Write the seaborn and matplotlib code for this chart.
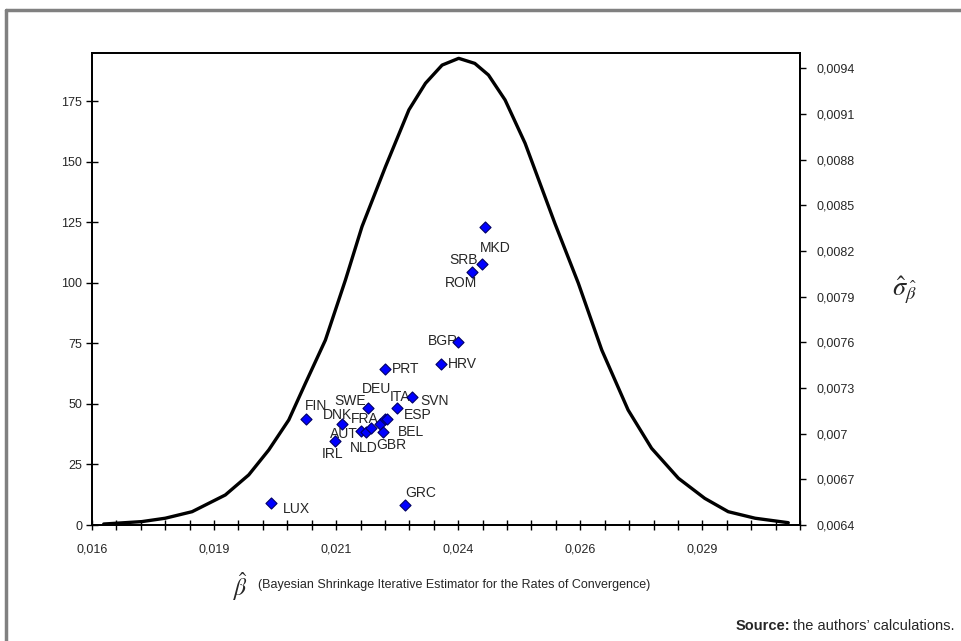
import matplotlib.pyplot as plt
import seaborn as sns
from matplotlib.lines import Line2D
from matplotlib.ticker import MultipleLocator

# density curve (left axis)
beta_grid = [0.01624, 0.01702, 0.01750, 0.01805, 0.01873, 0.01921, 0.01962, 0.02003,
             0.02037, 0.02078, 0.02119, 0.02153, 0.02201, 0.02249, 0.02283, 0.02317,
             0.02351, 0.02384, 0.02412, 0.02446, 0.02487, 0.02548, 0.02596, 0.02644,
             0.02698, 0.02746, 0.02801, 0.02855, 0.02903, 0.02958, 0.03026]
density = [0.4, 1.4, 2.8, 5.5, 12.4, 20.7, 31.0, 43.4,
           58.5, 76.4, 101.2, 123.3, 148.0, 171.5, 182.5, 190.0,
           192.8, 190.7, 185.9, 175.6, 157.7, 124.6, 99.9, 72.3,
           47.5, 31.7, 19.3, 11.0, 5.5, 2.8, 0.95]

# country estimates (right axis)
countries = ['LUX', 'GRC', 'PRT', 'BGR', 'HRV', 'MKD', 'SRB', 'ROM', 'FIN', 'DNK', 'SWE',
             'ITA', 'SVN', 'IRL', 'AUT', 'NLD', 'GBR', 'FRA', 'DEU', 'ESP', 'BEL']
beta_hat = [0.01967, 0.02242, 0.02200, 0.02350, 0.02315, 0.02405, 0.02398, 0.02379, 0.02038,
            0.02112, 0.02165, 0.02225, 0.02255, 0.02097, 0.02150, 0.02161, 0.02171, 0.02189,
            0.02200, 0.02205, 0.02195]
sigma_hat = [0.006546, 0.006531, 0.007424, 0.007604, 0.007455, 0.008359, 0.008112, 0.008061,
             0.007096, 0.007063, 0.007166, 0.007170, 0.007239, 0.006954, 0.007015, 0.007009,
             0.007035, 0.007063, 0.007096, 0.007096, 0.007009]

x_ticks = [0.016, 0.0185, 0.021, 0.0235, 0.026, 0.0285]
x_tick_labels = ['0,016', '0,019', '0,021', '0,024', '0,026', '0,029']
left_ticks = [0, 25, 50, 75, 100, 125, 150, 175]
right_ticks = [0.0064, 0.0067, 0.0070, 0.0073, 0.0076, 0.0079, 0.0082, 0.0085, 0.0088, 0.0091, 0.0094]
right_tick_labels = ['0,0064', '0,0067', '0,007', '0,0073', '0,0076', '0,0079', '0,0082',
                     '0,0085', '0,0088', '0,0091', '0,0094']

# where each label sits relative to its marker (pixels)
label_offsets = {'LUX': (25, -6), 'GRC': (15, 12), 'PRT': (21, 0), 'BGR': (-15, 1),
                 'HRV': (21, 0), 'MKD': (10, -21), 'SRB': (-18, 4), 'ROM': (-11, -11),
                 'FIN': (10, 13), 'DNK': (-4, 9), 'SWE': (-18, 7), 'ITA': (3, 11),
                 'SVN': (23, -4), 'IRL': (-2, -13), 'AUT': (-17, -3), 'NLD': (-2, -16),
                 'GBR': (21, -17), 'FRA': (-15, 5), 'DEU': (-8, 30), 'ESP': (30, 4),
                 'BEL': (28, 0)}

sns.set_style('white')
plt.rcParams['font.family'] = ['Liberation Sans', 'DejaVu Sans']
plt.rcParams['mathtext.fontset'] = 'stix'

fig = plt.figure(figsize=(9.62, 6.41), dpi=100)
ax = fig.add_axes([92 / 962, 116 / 641, 708 / 962, 472 / 641])

# density curve
sns.lineplot(x=beta_grid, y=density, ax=ax, color='black', linewidth=2.4, sort=False)
ax.set_xlim(0.016, 0.0305)
ax.set_ylim(0, 195)
ax.set_xticks(x_ticks)
ax.set_xticklabels(x_tick_labels)
ax.xaxis.set_minor_locator(MultipleLocator(0.0005))
ax.set_yticks(left_ticks)
ax.set_yticklabels([str(t) for t in left_ticks])
ax.tick_params(axis='x', which='both', direction='inout', length=7, width=1, color='black',
               labelsize=9, pad=10, bottom=True)
ax.tick_params(axis='y', direction='inout', length=8, width=1, color='black',
               labelsize=9, pad=3, left=True)
ax.set_xlabel('')
ax.set_ylabel('')

# country points on the secondary axis
ax2 = ax.twinx()
sns.scatterplot(x=beta_hat, y=sigma_hat, ax=ax2, marker='D', s=32, color='#0000ff',
                edgecolor='#000066', linewidth=0.8, zorder=5)
ax2.set_ylim(0.0064, 0.0095)
ax2.set_yticks(right_ticks)
ax2.set_yticklabels(right_tick_labels)
ax2.tick_params(axis='y', direction='out', length=4, width=1, color='black',
                labelsize=9, pad=8, right=True)
ax2.set_ylabel('')

for c, bx, sy in zip(countries, beta_hat, sigma_hat):
    dx, dy = label_offsets[c]
    ax2.annotate(c, (bx, sy), xytext=(dx, dy), textcoords='offset pixels',
                 ha='center', va='center', fontsize=10)

for a in (ax, ax2):
    for sp in a.spines.values():
        sp.set_color('black')
        sp.set_linewidth(1.3)

# axis titles
fig.text(241 / 962, 1 - 587 / 641, r'$\hat{\beta}$', fontsize=17, ha='center', va='center')
fig.text(258 / 962, 1 - 585 / 641,
         '(Bayesian Shrinkage Iterative Estimator for the Rates of Convergence)',
         fontsize=9, ha='left', va='center')
fig.text(905 / 962, 1 - 290 / 641, r'$\hat{\sigma}_{\hat{\beta}}$', fontsize=19,
         ha='center', va='center')

# source note
narrow = ['Liberation Sans Narrow', 'Liberation Sans', 'DejaVu Sans']
src = fig.text(955 / 962, 1 - 626 / 641, 'the authors\u2019 calculations.', fontsize=10.5,
               family=narrow, ha='right', va='center')
fig.canvas.draw()
bb = src.get_window_extent()
fig.text((bb.x0 - 3) / 962, 1 - 626 / 641, 'Source:', fontsize=10.5, family=narrow,
         fontweight='bold', ha='right', va='center')

# grey outer frame
frame = dict(transform=fig.transFigure, color='#808080', linewidth=2.5)
fig.add_artist(Line2D([6 / 962, 1], [1 - 10 / 641, 1 - 10 / 641], **frame))
fig.add_artist(Line2D([6 / 962, 6 / 962], [0, 1 - 10 / 641], **frame))

fig.savefig('out.png', dpi=100)
